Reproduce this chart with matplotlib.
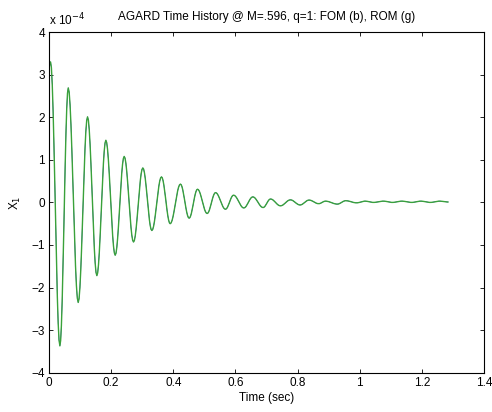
import numpy as np
import matplotlib
matplotlib.use("Agg")
import matplotlib.pyplot as plt

plt.rcParams['font.family'] = ['Liberation Sans', 'DejaVu Sans']

# extrema of X_1 (units of 1e-4), in time order
ext_time = [0.0, 0.005, 0.035, 0.062, 0.094, 0.124, 0.154, 0.183, 0.213, 0.242,
            0.272, 0.302, 0.331, 0.362, 0.390, 0.423, 0.451, 0.478, 0.509, 0.536,
            0.568, 0.594, 0.627, 0.656, 0.689, 0.713, 0.745, 0.777, 0.808, 0.837,
            0.868, 0.890, 0.928, 0.955, 0.990, 1.017, 1.044, 1.076, 1.105, 1.135,
            1.167, 1.196, 1.227, 1.257, 1.284]
ext_x1 = [3.20, 3.30, -3.37, 2.69, -2.35, 2.01, -1.72, 1.46, -1.24, 1.08,
          -0.93, 0.81, -0.66, 0.60, -0.50, 0.43, -0.37, 0.31, -0.26, 0.23,
          -0.16, 0.17, -0.13, 0.13, -0.12, 0.08, -0.08, 0.06, -0.06, 0.055,
          -0.03, 0.03, -0.04, 0.04, -0.01, 0.03, 0.0, 0.03, 0.0, 0.03,
          0.0, 0.03, 0.0, 0.03, 0.01]

xticks = [0, 0.2, 0.4, 0.6, 0.8, 1.0, 1.2, 1.4]
xtick_labels = ['0', '0.2', '0.4', '0.6', '0.8', '1', '1.2', '1.4']
yticks = [-4, -3, -2, -1, 0, 1, 2, 3, 4]


def trace(times, vals, n=12):
    # join neighbouring extrema with half cosine arcs
    t_all, v_all = [times[0]], [vals[0]]
    for i in range(len(times) - 1):
        s = np.linspace(0, 1, n)[1:]
        t_all.extend(times[i] + (times[i + 1] - times[i]) * s)
        v_all.extend(vals[i] + (vals[i + 1] - vals[i]) * (1 - np.cos(np.pi * s)) / 2)
    return np.array(t_all), np.array(v_all)


t, x1 = trace(ext_time, ext_x1)

fig = plt.figure(figsize=(4.92, 4.12), dpi=100)
ax = fig.add_axes([0.0996, 0.0954, 0.8841, 0.8266])

ax.plot(t, x1, color='#0000ff', linewidth=0.4)
ax.plot(t, x1, color='#3aa23a', linewidth=1.0)

ax.set_xlim(0, 1.4)
ax.set_ylim(-4, 4)
ax.set_xticks(xticks)
ax.set_xticklabels(xtick_labels)
ax.set_yticks(yticks)
ax.tick_params(direction='in', top=True, right=True, labelsize=8.5, length=3,
               width=0.6, pad=3)
for sp in ax.spines.values():
    sp.set_linewidth(0.8)

ax.set_xlabel('Time (sec)', fontsize=8.5, labelpad=2)
ax.set_ylabel('X$_1$', fontsize=8.5, labelpad=6)
ax.set_title('AGARD Time History @ M=.596, q=1: FOM (b), ROM (g)', fontsize=8.5, pad=9)
ax.text(0.0, 1.012, 'x 10$^{-4}$', transform=ax.transAxes, fontsize=8.5,
        ha='left', va='bottom')

plt.savefig('out.png', dpi=100)
